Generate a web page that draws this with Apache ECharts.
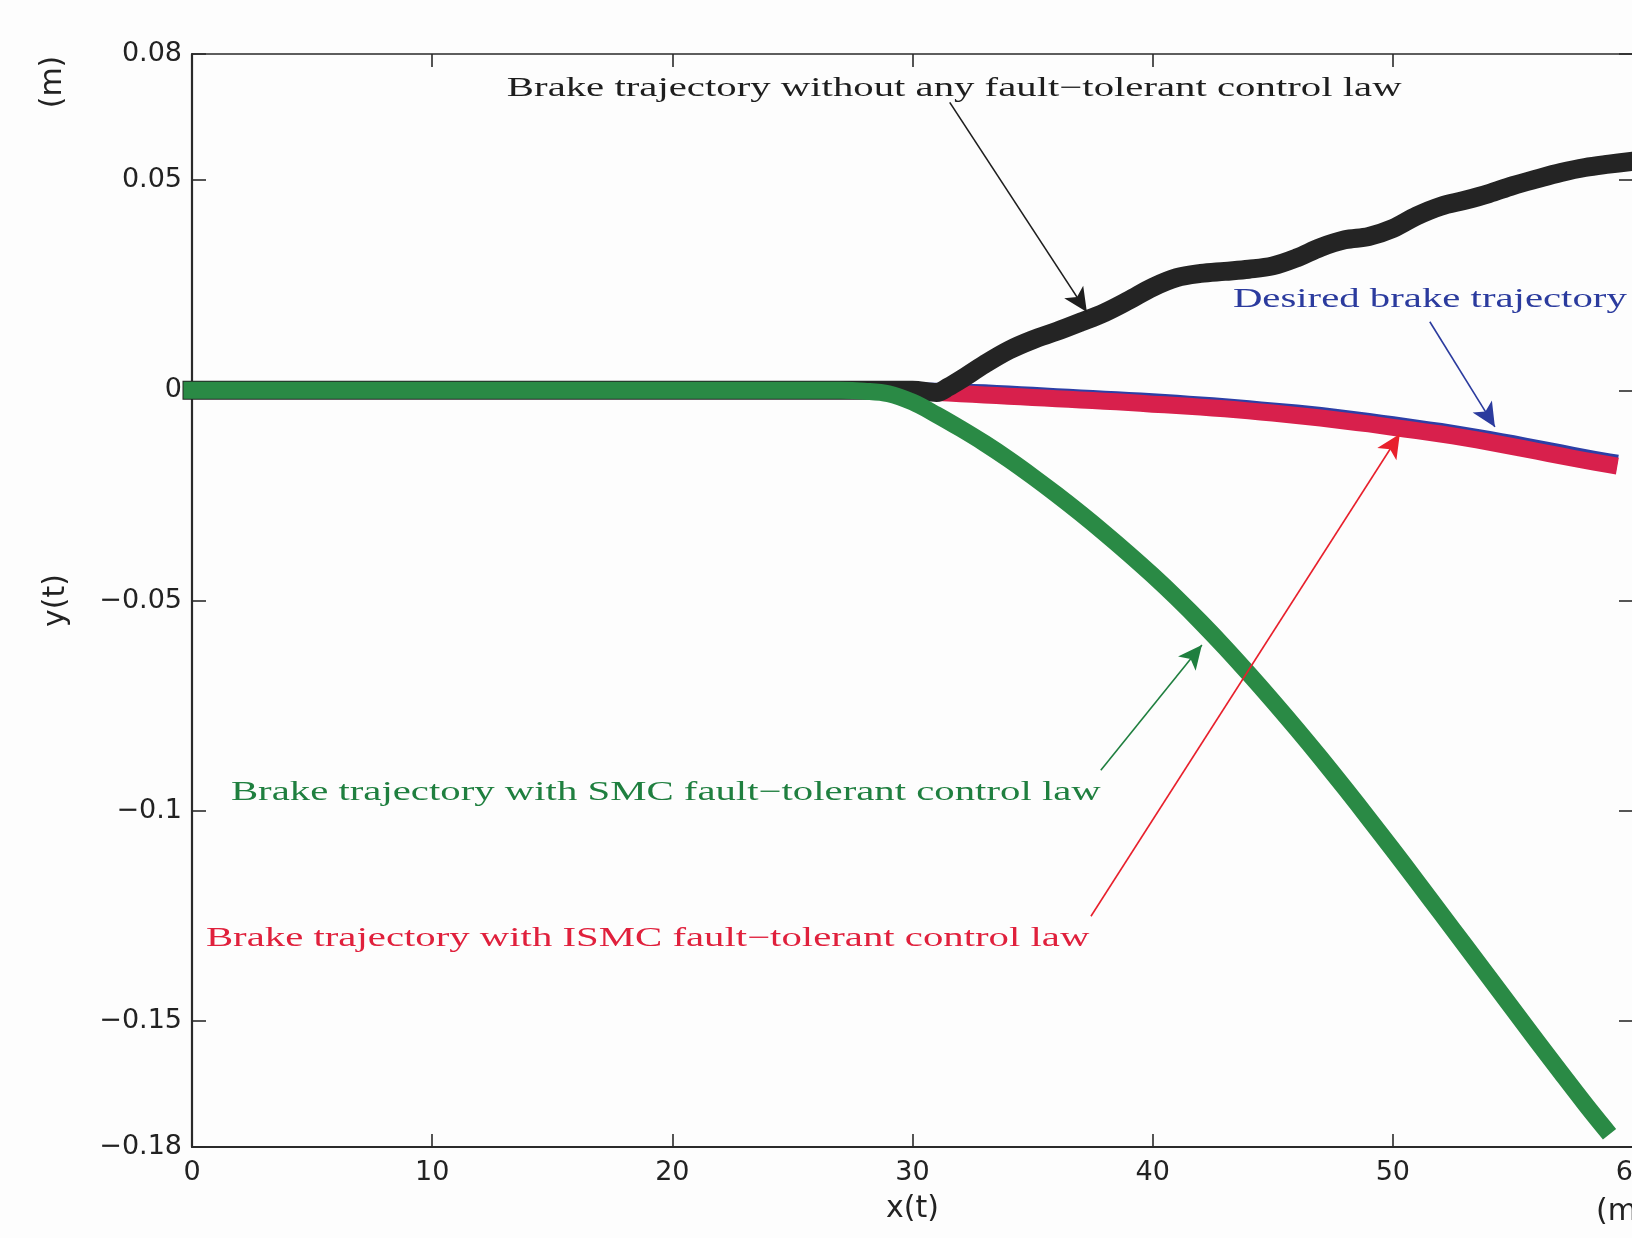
<!DOCTYPE html>
<html><head><meta charset="utf-8">
<script src="https://cdn.jsdelivr.net/npm/echarts@6/dist/echarts.min.js"></script>
<style>html,body{margin:0;padding:0;background:#fdfdfd}#c{width:1632px;height:1238px}</style>
</head><body><div id="c"></div>
<script>
// ---- data ----
const yTicks = [-0.18, -0.15, -0.1, -0.05, 0, 0.05, 0.08];
const xTicks = [0, 10, 20, 30, 40, 50, 60];

const desiredX = [0,4,8,12,16,20,24,28,29,30,31,32,33,34,35,36,37,38,39,40,41,42,43,44,45,46,47,48,49,50,51,52,53,54,55,56,57,58,59];
const desiredY = [0,0,0,0,0,0,0,0,0,-0.0001,-0.0002,-0.0004,-0.0006,-0.0009,-0.0012,-0.0015,-0.0018,-0.0021,-0.0024,-0.0027,-0.0031,-0.0035,-0.0039,-0.0044,-0.0049,-0.0054,-0.0060,-0.0067,-0.0074,-0.0082,-0.0090,-0.0098,-0.0107,-0.0117,-0.0127,-0.0138,-0.0149,-0.0160,-0.0170];

const ismcX = [0,4,8,12,16,20,24,28,29,30,31,32,33,34,35,36,37,38,39,40,41,42,43,44,45,46,47,48,49,50,51,52,53,54,55,56,57,58,59];
const ismcY = [0,0,0,0,0,0,0,0,-0.0001,-0.0003,-0.0005,-0.0008,-0.0011,-0.0014,-0.0017,-0.0020,-0.0023,-0.0026,-0.0029,-0.0033,-0.0036,-0.0040,-0.0044,-0.0049,-0.0054,-0.0060,-0.0066,-0.0073,-0.0080,-0.0088,-0.0096,-0.0104,-0.0113,-0.0123,-0.0134,-0.0145,-0.0156,-0.0167,-0.0177];

const noneX = [0,4,8,12,16,20,24,28,30,31,31.5,32,33,34,35,36,37,38,39,40,41,42,43,44,45,46,47,48,49,50,51,52,53,54,55,56,57,58,59,60];
const noneY = [0,0,0,0,0,0,0,0,0,-0.0005,0.0008,0.0025,0.0062,0.0095,0.0120,0.0140,0.0162,0.0185,0.0214,0.0245,0.0268,0.0278,0.0283,0.0288,0.0296,0.0315,0.0340,0.0358,0.0366,0.0385,0.0415,0.0438,0.0452,0.0468,0.0487,0.0503,0.0518,0.0530,0.0538,0.0545];

const smcX = [0,4,8,12,16,20,24,26,27,28,29,30,31,32,33,34,35,36,37,38,39,40,41,42,43,44,45,46,47,48,49,50,51,52,53,54,55,56,57,58,58.8];
const smcY = [0,0,0,0,0,0,0,0,0,-0.0002,-0.0008,-0.0028,-0.0058,-0.0091,-0.0126,-0.0164,-0.0205,-0.0248,-0.0293,-0.0340,-0.0389,-0.0440,-0.0494,-0.0551,-0.0611,-0.0674,-0.0739,-0.0806,-0.0875,-0.0946,-0.1019,-0.1093,-0.1168,-0.1244,-0.1320,-0.1396,-0.1472,-0.1548,-0.1623,-0.1697,-0.1754];

// annotation texts (anchor in data coords: left edge, vertical middle)
const labelTexts = ['Brake trajectory without any fault\u2212tolerant control law','Desired brake trajectory','Brake trajectory with SMC fault\u2212tolerant control law','Brake trajectory with ISMC fault\u2212tolerant control law'];
const labelX = [13.11, 43.34, 1.62, 0.58];
const labelY = [0.0718, 0.0215, -0.0958, -0.1304];
const labelColors = ['#1e1e1e', '#2b3b9e', '#1f7f3f', '#e0203c'];

// arrows (data coords)
const arrowNone = [[31.55, 0.0685], [37.26, 0.0186]];
const arrowDesired = [[51.54, 0.0163], [54.25, -0.0087]];
const arrowIsmc = [[37.43, -0.1251], [50.29, -0.0104]];
const arrowSmc = [[37.84, -0.0904], [42.05, -0.0606]];

function zip(xs, ys) { return xs.map((x, i) => [x, ys[i]]); }
function fmt(v) {
  const s = String(Math.round(v * 100) / 100);
  return s.replace('-', '\u2212');
}
function arrowML(pts, color) {
  return {
    silent: true, animation: false,
    symbol: ['none', 'arrow'], symbolSize: [17, 24],
    label: { show: false },
    lineStyle: { color: color, width: 1.6, type: 'solid', opacity: 1 },
    itemStyle: { color: color },
    emphasis: { disabled: true },
    data: [[{ coord: pts[0] }, { coord: pts[1] }]]
  };
}
function band(name, xs, ys, color, w, arrow) {
  return {
    name: name, type: 'line', data: zip(xs, ys),
    smooth: 0.35,
    showSymbol: false, symbol: 'none', clip: false,
    lineStyle: { color: color, width: w, cap: 'square', join: 'round' },
    itemStyle: { color: color },
    emphasis: { disabled: true },
    animation: false,
    markLine: arrow
  };
}

const axisLineStyle = { color: '#2a2a2a', width: 1.6 };
const tickFont = { fontFamily: 'DejaVu Sans', fontSize: 27, color: '#222' };

const chart = echarts.init(document.getElementById('c'), null, { renderer: 'canvas' });
chart.setOption({
  backgroundColor: '#fdfdfd',
  animation: false,
  grid: { left: 192, top: 54, width: 1441, height: 1093, containLabel: false, outerBoundsMode: 'none' },
  xAxis: [{
    type: 'value', min: 0, max: 60, interval: 10, position: 'bottom',
    name: 'x(t)', nameLocation: 'middle', nameGap: 47,
    nameTextStyle: { fontFamily: 'DejaVu Sans', fontSize: 30, color: '#222' },
    axisLine: { show: true, onZero: false, lineStyle: { color: '#2a2a2a', width: 2.2 } },
    axisTick: { show: true, inside: true, length: 13, lineStyle: axisLineStyle },
    axisLabel: Object.assign({ margin: 12, formatter: v => String(v) }, tickFont),
    splitLine: { show: false }
  }, {
    type: 'value', min: 0, max: 60, interval: 10, position: 'top',
    axisLine: { show: true, onZero: false, lineStyle: axisLineStyle },
    axisTick: { show: true, inside: true, length: 13, lineStyle: axisLineStyle },
    axisLabel: { show: false }, splitLine: { show: false }
  }],
  yAxis: [{
    type: 'value', min: -0.18, max: 0.08, position: 'left',
    name: 'y(t)', nameLocation: 'middle', nameRotate: 90, nameGap: 121,
    nameTextStyle: { fontFamily: 'DejaVu Sans', fontSize: 30, color: '#222' },
    axisLine: { show: true, onZero: false, lineStyle: { color: '#2a2a2a', width: 2.2 } },
    axisTick: { show: true, inside: true, length: 14, lineStyle: axisLineStyle, customValues: yTicks },
    axisLabel: Object.assign({ margin: 10, customValues: yTicks, formatter: fmt }, tickFont),
    splitLine: { show: false }
  }, {
    type: 'value', min: -0.18, max: 0.08, position: 'right',
    axisLine: { show: true, onZero: false, lineStyle: axisLineStyle },
    axisTick: { show: true, inside: true, length: 14, lineStyle: axisLineStyle, customValues: yTicks },
    axisLabel: { show: false }, splitLine: { show: false }
  }],
  series: [
    band('Desired brake trajectory', desiredX, desiredY, '#2c3fa6', 17, arrowML(arrowDesired, '#2b3b9e')),
    band('ISMC', ismcX, ismcY, '#d8204c', 17, arrowML(arrowIsmc, '#e8202c')),
    band('No fault-tolerant control', noneX, noneY, '#242424', 19, arrowML(arrowNone, '#1e1e1e')),
    band('SMC', smcX, smcY, '#2a8a45', 17, arrowML(arrowSmc, '#1f7f3f'))
  ]
});

const g = [];
labelTexts.forEach((t, i) => {
  const p = chart.convertToPixel({ gridIndex: 0 }, [labelX[i], labelY[i]]);
  g.push({
    type: 'text', x: p[0], y: p[1], scaleX: 1.51, silent: true, z: 100,
    style: { text: t, fill: labelColors[i], font: '27px "Liberation Serif"',
      fontFamily: 'Liberation Serif', fontSize: 27,
      textAlign: 'left', align: 'left', textVerticalAlign: 'middle', verticalAlign: 'middle' }
  });
});
// axis unit labels
g.push({ type: 'text', x: 53, y: 82, rotation: Math.PI / 2, silent: true,
  style: { text: '(m)', fill: '#222', font: '30px "DejaVu Sans"', fontFamily: 'DejaVu Sans', fontSize: 30,
    textAlign: 'center', align: 'center', textVerticalAlign: 'middle', verticalAlign: 'middle' } });
g.push({ type: 'text', x: 1596, y: 1212, silent: true,
  style: { text: '(m)', fill: '#222', font: '30px "DejaVu Sans"', fontFamily: 'DejaVu Sans', fontSize: 30,
    textAlign: 'left', align: 'left', textVerticalAlign: 'middle', verticalAlign: 'middle' } });
chart.setOption({ graphic: g });
</script></body></html>
